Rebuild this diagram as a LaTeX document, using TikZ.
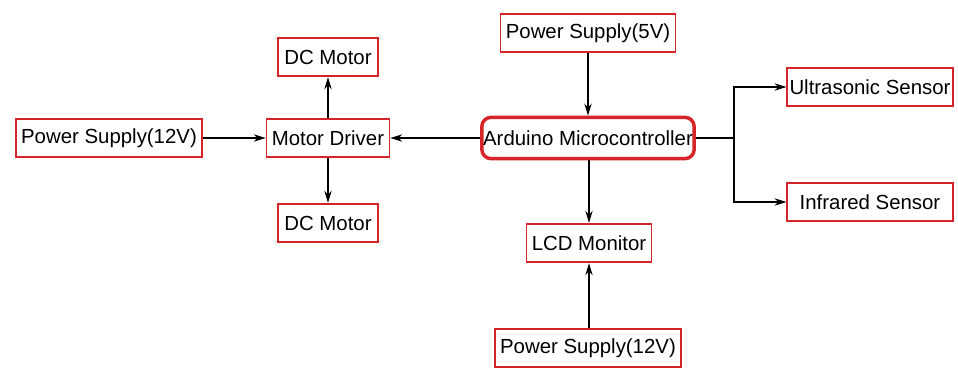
\documentclass[tikz,border=0pt]{standalone}
\usepackage{fontspec}
\setmainfont{Liberation Sans}
\usepackage{tikz}
\usetikzlibrary{arrows.meta,positioning}
\definecolor{boxred}{RGB}{214,36,42}

\begin{document}
\begin{tikzpicture}[
  x=0.75pt, y=-0.75pt,
  block/.style={draw=boxred, line width=1.3pt, fill=white, inner xsep=4pt,
    minimum height=29pt, align=center,
    font=\fontsize{15.3}{18}\selectfont},
  mcu/.style={block, line width=2.6pt, rounded corners=7pt, minimum height=31pt,
    inner xsep=1pt},
  sensor/.style={block, inner xsep=1.5pt, minimum width=124pt},
  arr/.style={-{Stealth[length=9pt,width=5.5pt]}, line width=1pt}
]
\useasboundingbox (0,0) rectangle (958,371);

\node[block] (psl)    at (109, 138) {Power Supply(12V)};
\node[block] (drv)    at (328, 138) {Motor Driver};
\node[block, minimum width=75pt] (dcup)   at (328,  57) {DC Motor};
\node[block, minimum width=75pt] (dcdown) at (328, 223) {DC Motor};
\node[block] (ps5)    at (588,  33) {Power Supply(5V)};
\node[mcu]   (ard)    at (588, 138) {Arduino Microcontroller};
\node[block] (lcd)    at (589, 243) {LCD Monitor};
\node[block] (psb)    at (588, 348) {Power Supply(12V)};
\node[sensor] (us)    at (870,  87) {Ultrasonic Sensor};
\node[sensor] (ir)    at (870, 202) {Infrared Sensor};
\coordinate (fork) at (734, 138);

\draw[arr] (psl)  -- (drv);
\draw[arr] (drv)  -- (dcup);
\draw[arr] (drv)  -- (dcdown);
\draw[arr] (ard)  -- (drv);
\draw[arr] (ps5)  -- (ard);
\draw[arr] (ard.south -| lcd) -- (lcd);
\draw[arr] (psb.north -| lcd) -- (lcd);
\draw[line width=1pt] (ard.east) -- (fork);
\draw[arr] (fork) |- (us.west);
\draw[arr] (fork) |- (ir.west);
\end{tikzpicture}
\end{document}
